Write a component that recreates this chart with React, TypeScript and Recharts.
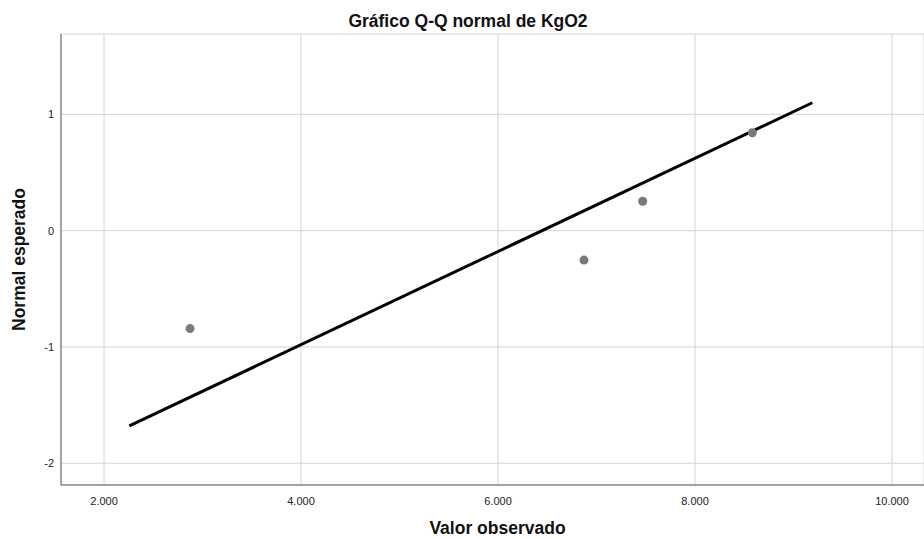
import React from 'react';
import {
  ScatterChart,
  Scatter,
  XAxis,
  YAxis,
  CartesianGrid,
  Label,
} from 'recharts';

// observed values vs expected normal quantiles
const observed = [2.873, 6.873, 7.469, 8.582];
const expected = [-0.842, -0.253, 0.253, 0.842];

// reference line endpoints
const lineX = [2.257, 9.191];
const lineY = [-1.679, 1.1];

const xTicks = [2, 4, 6, 8, 10];
const yTicks = [-2, -1, 0, 1];

const TITLE = 'Gráfico Q-Q normal de KgO2';
const X_LABEL = 'Valor observado';
const Y_LABEL = 'Normal esperado';

const FONT = '"Liberation Sans", Arial, sans-serif';

const points = observed.map((x, i) => ({ x, y: expected[i] }));
const linePoints = lineX.map((x, i) => ({ x, y: lineY[i] }));

export default function App() {
  return (
    <div style={{ position: 'absolute', left: 0, top: 0, width: 924, height: 539, background: '#fff', fontFamily: FONT }}>
      <ScatterChart
        width={924}
        height={539}
        margin={{ top: 34, right: 0, bottom: 0, left: 0 }}
      >
        <CartesianGrid stroke="#d4d4d4" strokeWidth={1} />
        <XAxis
          type="number"
          dataKey="x"
          domain={[1.563, 10.325]}
          ticks={xTicks}
          allowDataOverflow
          tickFormatter={(v: number) => v.toFixed(3)}
          height={54}
          tickLine={false}
          axisLine={{ stroke: '#8a8a8a', strokeWidth: 1.5 }}
          tick={{ fill: '#222', fontSize: 11, fontFamily: FONT }}
          tickMargin={6}
        >
          <Label
            value={X_LABEL}
            position="insideBottom"
            offset={5}
            dx={5}
            style={{ fill: '#111', fontSize: 17.5, fontWeight: 'bold', fontFamily: FONT }}
          />
        </XAxis>
        <YAxis
          type="number"
          dataKey="y"
          domain={[-2.187, 1.691]}
          ticks={yTicks}
          allowDataOverflow
          width={61}
          tickLine={false}
          axisLine={{ stroke: '#8a8a8a', strokeWidth: 1.5 }}
          tick={{ fill: '#222', fontSize: 11, fontFamily: FONT }}
          tickMargin={1}
        >
          <Label
            value={Y_LABEL}
            angle={-90}
            position="insideLeft"
            offset={19}
            style={{ fill: '#111', fontSize: 17.5, fontWeight: 'bold', fontFamily: FONT, textAnchor: 'middle' }}
          />
        </YAxis>
        <Scatter
          data={linePoints}
          line={{ stroke: '#000', strokeWidth: 3 }}
          shape={() => <g />}
          isAnimationActive={false}
        />
        <Scatter
          data={points}
          fill="#7a7a7a"
          shape={(p: any) => <circle cx={p.cx} cy={p.cy} r={4.5} fill="#7a7a7a" />}
          isAnimationActive={false}
        />
      </ScatterChart>
      <svg width={924} height={34} style={{ position: 'absolute', left: 0, top: 0 }}>
        <text
          x={468}
          y={27}
          textAnchor="middle"
          style={{ fontFamily: FONT, fontSize: 17.5, fontWeight: 'bold', fill: '#111' }}
        >
          {TITLE}
        </text>
      </svg>
    </div>
  );
}
